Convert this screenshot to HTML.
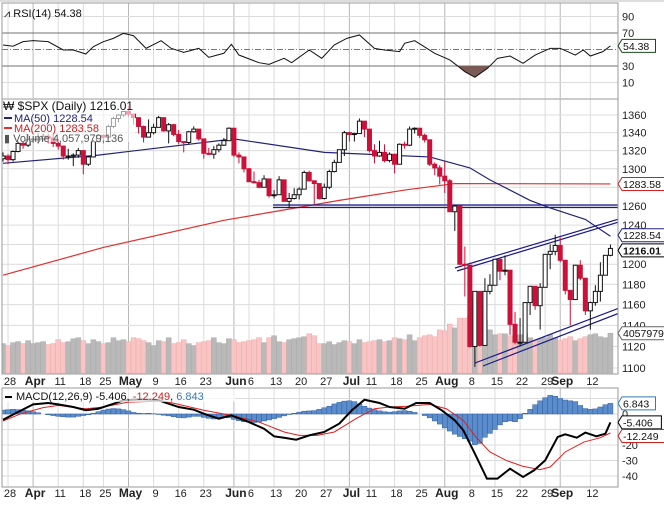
<!DOCTYPE html>
<html><head><meta charset="utf-8"><style>
body{margin:0;background:#fff;}
svg{display:block;font-family:"Liberation Sans",sans-serif;}
</style></head><body>
<svg id="c" width="664" height="505" viewBox="0 0 664 505" xmlns="http://www.w3.org/2000/svg">
<defs>
<clipPath id="pc"><rect x="2" y="99" width="616" height="275"/></clipPath>
<clipPath id="rc"><rect x="2" y="3" width="616" height="95"/></clipPath>
<clipPath id="rl"><rect x="2" y="66" width="616" height="32"/></clipPath>
<clipPath id="mc"><rect x="2" y="388" width="616" height="99"/></clipPath>
</defs>
<rect x="0" y="0" width="664" height="505" fill="#fff"/>
<g id="grid"></g>
<g id="rsi" clip-path="url(#rc)"></g>
<g id="price" clip-path="url(#pc)"></g>
<g id="macd" clip-path="url(#mc)"></g>
<g id="frame"></g>
<g id="labels"></g>
</svg>
<script>
const closes=[1314,1310,1319,1328,1326,1332,1333,1333,1336,1334,1328,1325,1314,1314,1315,1320,1305,1313,1330,1337,1335,1347,1356,1360,1364,1361,1357,1347,1335,1340,1346,1357,1342,1349,1338,1330,1329,1341,1344,1333,1317,1316,1321,1326,1331,1345,1315,1313,1300,1286,1285,1280,1289,1271,1272,1288,1265,1268,1272,1278,1296,1287,1284,1268,1280,1297,1307,1321,1340,1338,1339,1353,1344,1320,1314,1318,1309,1316,1305,1327,1326,1344,1345,1337,1332,1305,1301,1292,1287,1254,1260,1200,1199,1120,1173,1121,1173,1179,1205,1193,1194,1141,1124,1124,1162,1178,1159,1177,1210,1213,1219,1204,1174,1165,1199,1186,1154,1162,1173,1189,1209,1216];
const opens=[1311,1314,1310,1319,1328,1326,1332,1333,1333,1336,1334,1328,1325,1314,1314,1315,1320,1305,1313,1330,1337,1335,1347,1356,1360,1364,1361,1357,1347,1335,1340,1346,1357,1342,1349,1338,1330,1329,1341,1344,1333,1317,1316,1321,1326,1331,1345,1315,1313,1300,1286,1285,1280,1289,1271,1272,1288,1265,1268,1272,1278,1296,1287,1284,1268,1280,1297,1307,1321,1340,1338,1339,1353,1344,1320,1314,1318,1309,1316,1305,1327,1326,1344,1345,1337,1332,1305,1301,1292,1287,1254,1260,1200,1199,1120,1173,1121,1173,1179,1205,1193,1194,1141,1124,1124,1162,1178,1159,1177,1210,1213,1219,1204,1174,1165,1199,1186,1154,1162,1173,1189,1209];
const highs=[1318,1316,1320,1331,1330,1338,1336,1339,1339,1339,1338,1333,1325,1322,1317,1323,1320,1314,1332,1338,1338,1349,1358,1361,1364,1370,1361,1357,1348,1355,1350,1359,1357,1351,1350,1343,1330,1342,1347,1344,1333,1323,1325,1328,1334,1346,1345,1318,1313,1301,1297,1288,1293,1289,1277,1292,1286,1274,1279,1280,1298,1298,1286,1284,1284,1299,1310,1321,1342,1341,1340,1356,1353,1344,1327,1331,1327,1318,1315,1328,1330,1347,1346,1344,1339,1331,1307,1304,1308,1289,1261,1260,1218,1199,1173,1172,1186,1190,1204,1205,1209,1191,1153,1147,1162,1178,1178,1181,1210,1220,1230,1227,1204,1174,1199,1204,1186,1163,1179,1202,1209,1220];
const lows=[1308,1305,1308,1318,1322,1324,1329,1328,1331,1328,1324,1321,1310,1310,1303,1312,1294,1303,1313,1330,1331,1334,1345,1352,1358,1358,1349,1339,1329,1335,1338,1346,1341,1328,1336,1327,1318,1327,1340,1331,1311,1315,1311,1318,1325,1331,1313,1306,1296,1286,1284,1279,1280,1269,1268,1272,1265,1258,1267,1267,1278,1286,1262,1267,1267,1278,1296,1307,1314,1330,1330,1339,1335,1318,1306,1313,1307,1307,1295,1305,1322,1325,1339,1334,1329,1303,1293,1283,1274,1254,1234,1199,1168,1119,1101,1120,1121,1170,1179,1184,1189,1131,1122,1120,1124,1150,1155,1136,1178,1195,1209,1202,1170,1140,1166,1184,1150,1136,1159,1163,1190,1208];
const volumes=[3.0,2.8,3.1,3.2,3.0,3.3,3.0,3.1,3.2,2.9,3.0,3.4,3.1,3.2,3.5,3.6,3.3,3.0,3.4,3.2,3.0,3.1,3.6,3.3,3.4,3.2,3.6,3.5,3.3,3.1,2.8,3.3,3.2,3.6,3.0,3.1,3.4,3.0,2.8,3.1,3.2,3.3,3.6,3.1,3.0,3.5,3.4,3.1,3.2,3.3,3.4,3.6,3.1,3.6,3.8,3.2,3.1,3.4,3.5,3.6,3.7,4.0,3.8,3.0,3.0,3.2,2.9,3.1,3.3,3.2,3.0,3.4,3.1,3.2,3.3,3.4,3.2,3.3,3.6,3.5,3.4,3.9,3.3,3.6,3.8,3.9,3.7,4.4,4.3,5.0,4.6,5.6,5.6,5.8,7.4,6.3,5.4,4.4,3.9,4.0,4.0,3.8,3.7,3.9,4.0,3.6,3.4,3.5,3.6,3.9,3.6,3.3,3.5,3.7,3.3,3.5,3.7,3.9,4.0,3.7,3.6,4.06];
const ma50Idx=[0,19,46,64,85,89,93,97,105,109,116,121];
const ma50Val=[1306,1315,1333,1318,1313,1307,1301,1288,1266,1258,1246,1228.5];
const ma200Idx=[0,20,44,67,80,90,121];
const ma200Val=[1189,1217,1245,1266,1277,1284,1283.6];
const rsiIdx=[0,2,4,6,9,12,14,16.5,18,20,22,24,26,28.5,31.5,33.5,36,39,41,44,45.5,47,51,53,56,57.5,61,63.5,66,68.5,71,74,76,79,80,82,86,89,90.5,92,94,96.5,98.5,101,103.6,106,109,111,114,115.6,117,119.5,121];
const rsiVal=[55.5,54,59.5,60.7,59.5,49.4,49.4,44.5,53.4,59.5,63.5,69.6,66.7,51.4,60.7,51.4,46.6,51.4,40.5,45.4,56.3,43.3,34,32,39.3,34,49.4,39.3,55.5,63.5,67.6,51.4,49.4,47.4,57.5,60.7,45.4,37.3,30.4,23.1,16.3,27.2,39.3,42.1,33.3,43.3,51.4,51.4,43.3,49.4,42.1,47.4,54.38];
const macdIdx=[0,3,6,9,11,14,16.5,19,21.6,24,27.5,31,32,35,38,40,43,45.5,49,52,54,56,58.4,61,64,67,69.5,72,75,77,80,82.3,85,87.4,90,91.7,94,96.4,98.5,101,103.6,105.8,108,110.5,112,114.3,116,118.2,120,121];
const macdVal=[-3.7,1.3,6.2,7.1,6.2,4.5,2.4,3.4,6.2,8.8,9.5,9,7.7,4.5,2.8,0.2,-3,-0.9,-5.2,-9.5,-14.4,-15.3,-16.6,-13.8,-11.6,-6.2,2.4,9.2,7.1,4.5,3.4,7.1,7.1,2.4,-4.1,-10.5,-25.6,-41.7,-41.7,-35.3,-40.6,-36.3,-29.9,-14.8,-13.1,-15.3,-12,-14.4,-12.7,-5.406];
const sigIdx=[0,3.6,8,11,15,16.5,20,25,32,35,40,45.5,51,56,59,62.6,66,70.3,74,77,80.5,85,88.3,91.7,94.2,97,100.2,103.6,107,109,112,115.7,119,121];
const sigVal=[-4.5,0.2,4.1,5.6,3.9,3.4,4.5,7.7,8.4,6.2,2.4,-0.9,-5.2,-11.6,-13.8,-13.8,-11.6,-3,3.4,4.5,5,6.2,3.4,-4.1,-14.8,-24.5,-29.9,-33.8,-35.9,-34.2,-24.5,-18.1,-15.3,-12.249];
const histVal=[2.5,2.8,3,2.8,2.5,2,1.5,0.8,0,-0.5,-1,-1.5,-1.8,-2,-2,-1.5,-1,-0.5,0.5,1.5,2.5,3.2,3.5,3.3,2.8,2,1,0.5,0.3,0.5,0.2,-0.3,-0.8,-1.2,-1.8,-2.3,-2.5,-2,-1.5,-1.5,-2.2,-2.8,-3.2,-2.5,-1.5,-2.5,-3.5,-4.3,-5,-5.3,-5.5,-5.2,-4.5,-3.8,-3,-2.2,-1.2,-0.3,0.5,1.2,1.8,2,2.2,3,4,5,6.5,7.5,8.3,8.5,8,6.5,5,3.8,2.8,2,1.5,1.2,1.5,2,2.2,1.8,1,0,-1,-2.5,-4.5,-6.5,-9,-11,-13,-14.5,-16,-17.5,-19.8,-19,-15,-12.5,-10,-7,-5,-4.5,-5,-3,0.5,3,6,8.5,10.5,12,11.5,10,9,8.5,8,5.5,3.5,3,3.3,4.5,6,6.843];
const dateLabels=["28","Apr","11","18","25","May","9","16","23","Jun","6","13","20","27","Jul","11","18","25","Aug","8","15","22","29","Sep","12"];
const dateIdx=[1,6,11,16,20,25,30,35,40,46,49,54,59,64,69,73,78,83,88,93,98,103,108,111,117];
const priceTicks=[1100,1120,1140,1160,1180,1200,1240,1260,1300,1320,1340,1360];
const priceGrid=[1100,1120,1140,1160,1180,1200,1220,1240,1260,1280,1300,1320,1340,1360];
const rsiTicks=[10,30,70,90];
const macdTicks=[0,-20,-30,-40];
const macdGrid=[10,0,-10,-20,-30,-40];

const NS="http://www.w3.org/2000/svg";
const xf=i=>3+i*5.02;
const py=p=>115+(Math.log(1360)-Math.log(p))/0.2122*253;
const ry=v=>33+(70-v)*0.825;
const my=v=>414-v*1.55;
const vy=v=>373-v*9.8;
function mk(tag,attrs,parent){const e=document.createElementNS(NS,tag);for(const k in attrs)e.setAttribute(k,attrs[k]);parent.appendChild(e);return e;}
const G=id=>document.getElementById(id);
const grid=G('grid'),frame=G('frame'),labels=G('labels'),rsiG=G('rsi'),priceG=G('price'),macdG=G('macd');

dateIdx.forEach((d,k)=>{const month=/[A-Z]/.test(dateLabels[k]);
 [[3,98],[99,374],[388,487]].forEach(r=>{const l=mk('line',{x1:xf(d),x2:xf(d),y1:r[0],y2:r[1],stroke:month?'#b8b8b8':'#dcdcdc','stroke-width':1},grid);
 
 });
 [381,493].forEach(yy=>{const t=mk('text',{x:xf(d)+2,y:yy+4,'font-size':month?12:11,'font-weight':month?'bold':'normal','text-anchor':'middle',fill:'#222'},labels);
 t.textContent=dateLabels[k];
 
 });
});
priceGrid.forEach(p=>{const l=mk('line',{x1:2,x2:618,y1:py(p),y2:py(p),stroke:'#dcdcdc'},grid);
 
 });
priceTicks.forEach(p=>{const t=mk('text',{x:622,y:py(p)+4,'font-size':11,fill:'#222'},labels);t.textContent=p;
 
 });
[10,90].forEach(v=>{const l=mk('line',{x1:2,x2:618,y1:ry(v),y2:ry(v),stroke:'#dcdcdc'},grid);
 
 });
[30,70].forEach(v=>{const l=mk('line',{x1:2,x2:618,y1:ry(v),y2:ry(v),stroke:'#707070'},grid);
 
 });
const mid=mk('line',{x1:2,x2:618,y1:ry(50),y2:ry(50),stroke:'#777','stroke-dasharray':'6,2,1,2'},grid);


rsiTicks.forEach(v=>{const t=mk('text',{x:622,y:ry(v)+4,'font-size':11,fill:'#222'},labels);t.textContent=v;
 
 });
macdGrid.forEach(v=>{const l=mk('line',{x1:2,x2:618,y1:my(v),y2:my(v),stroke:'#dcdcdc'},grid);
 
 });
macdTicks.forEach(v=>{const t=mk('text',{x:622,y:my(v)+4,'font-size':11,fill:'#222'},labels);t.textContent=v;
 
 });

const rpts=rsiIdx.map((d,k)=>xf(d)+','+ry(rsiVal[k])).join(' ');
const rfill=mk('polygon',{points:xf(rsiIdx[0])+','+ry(30)+' '+rpts+' '+xf(rsiIdx[rsiIdx.length-1])+','+ry(30),fill:'#7a5a55','clip-path':'url(#rl)'},rsiG);


const rl=mk('polyline',{points:rpts,fill:'none',stroke:'#111','stroke-width':1},rsiG);



volumes.forEach((v,i)=>{const down=i>0&&closes[i]<closes[i-1];
 const r=mk('rect',{x:xf(i)-2.5,y:vy(v),width:5,height:373-vy(v),fill:down?'#f8c4c4':'#b9b9b9',stroke:down?'#eaa':'#aaa','stroke-width':0.5},priceG);
 
 });
const m2=mk('polyline',{points:ma200Idx.map((d,k)=>xf(d)+','+py(ma200Val[k])).join(' '),fill:'none',stroke:'#e03030','stroke-width':1.2},priceG);


const m5=mk('polyline',{points:ma50Idx.map((d,k)=>xf(d)+','+py(ma50Val[k])).join(' '),fill:'none',stroke:'#23237a','stroke-width':1.2},priceG);


[[273,205,618,205],[273,207.5,618,207.5],[455,268,622,218],[457,271,622,221],[475,363,622,307],[483,366,622,312]].forEach(s=>{
 const l=mk('line',{x1:s[0],y1:s[1],x2:s[2],y2:s[3],stroke:'#1a1a8a','stroke-width':1.2},priceG);
 
 });
closes.forEach((c,i)=>{const o=opens[i],up=c>=o,col=up?'#111':'#cc1038';const x=xf(i);
 const w=mk('line',{x1:x,x2:x,y1:py(highs[i]),y2:py(lows[i]),stroke:col,'stroke-width':1},priceG);
 
 
 const t=py(Math.max(o,c)),b=py(Math.min(o,c));
 const r=mk('rect',{x:x-2,y:t,width:4,height:Math.max(1,b-t),fill:up?'#fff':col,stroke:col,'stroke-width':1},priceG);
 
 });

histVal.forEach((v,i)=>{const y0=my(0),y1=my(v);
 const r=mk('rect',{x:xf(i)-2.5,y:Math.min(y0,y1),width:5,height:Math.abs(y1-y0),fill:'#5b8ccc',stroke:'#2f5f9f','stroke-width':0.5},macdG);
 
 });
const sl=mk('polyline',{points:sigIdx.map((d,k)=>xf(d)+','+my(sigVal[k])).join(' '),fill:'none',stroke:'#e02020','stroke-width':1},macdG);


const ml=mk('polyline',{points:macdIdx.map((d,k)=>xf(d)+','+my(macdVal[k])).join(' '),fill:'none',stroke:'#000','stroke-width':2},macdG);



[[2,3,616,96],[2,99,616,275],[2,388,616,99]].forEach(f=>{const r=mk('rect',{x:f[0],y:f[1],width:f[2],height:f[3],fill:'none',stroke:'#999'},frame);
 
 });
mk('line',{x1:0,x2:664,y1:1,y2:1,stroke:'#bbb'},frame);

function tag(y,txt,col,bold){const g=mk('g',{},labels);
 const w=txt.length*5.9+4;
 mk('polygon',{points:`618,${y} 622,${y-6.5} ${622+w},${y-6.5} ${622+w},${y+6.5} 622,${y+6.5}`,fill:'#fff',stroke:col,'stroke-width':1},g);
 const t=mk('text',{x:623,y:y+4,'font-size':10.5,'font-weight':bold?'bold':'normal',fill:'#111'},g);t.textContent=txt;
 return g;}
let g;
g=tag(ry(54.38),'54.38','#1a4a1a');

g=tag(py(1283.58),'1283.58','#d02020');

g=tag(py(1228.54)-1,'1228.54','#23237a');

g=tag(py(1216.01)+2,'1216.01','#000',true);

g=tag(vy(4.06),'4057979','#666');

g=tag(my(6.843),'6.843','#3a7ab0');

g=tag(my(-5.406),'-5.406','#000');

g=tag(my(-12.249)+3,'-12.249','#d02020');

</script>
<svg style="position:absolute;left:0;top:0" width="664" height="505">
<g font-family="Liberation Sans, sans-serif" font-size="11">
<text x="4" y="17" fill="#111">⩘ RSI(14) 54.38</text>
<rect x="3" y="100" width="132" height="42" fill="#fff" fill-opacity="0.6"/>
<text x="3" y="110" fill="#111" font-size="12">₩ $SPX (Daily) 1216.01</text>
<g><rect x="4" y="117" width="8" height="2" fill="#23237a"/><text x="14" y="122" fill="#23237a">MA(50) 1228.54</text></g>
<g><rect x="4" y="127" width="8" height="2" fill="#e03030"/><text x="14" y="132" fill="#cc2020">MA(200) 1283.58</text></g>
<text x="4" y="142" fill="#555">▮ Volume 4,057,979,136</text>
<rect x="3" y="389" width="232" height="13" fill="#fff" fill-opacity="0.7"/>
<g><rect x="5" y="396" width="7" height="2" fill="#000"/><text x="16" y="400" fill="#111">MACD(12,26,9) -5.406, <tspan fill="#cc2020">-12.249</tspan>, <tspan fill="#3a7ab0">6.843</tspan></text></g>
</g>
</svg>
</body></html>
